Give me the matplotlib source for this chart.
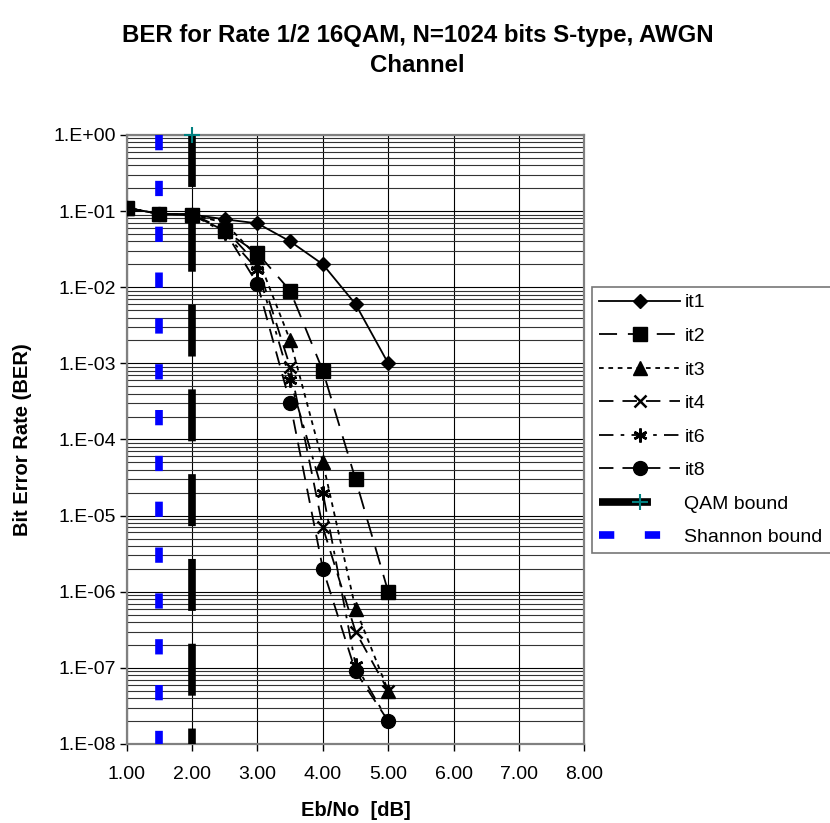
import matplotlib
matplotlib.use("Agg")
import matplotlib.pyplot as plt
from matplotlib.ticker import FixedLocator, LogLocator, NullFormatter
import numpy as np

plt.rcParams['font.family'] = ['Liberation Sans', 'DejaVu Sans']

# ---- data ----
ebno = [1.0, 1.5, 2.0, 2.5, 3.0, 3.5, 4.0, 4.5, 5.0]
it1 = [0.11, 0.092, 0.09, 0.078, 0.069, 0.040, 0.020, 0.006, 0.001]
it2 = [0.11, 0.092, 0.09, 0.055, 0.028, 0.009, 0.0008, 3e-5, 1e-6]
it3 = [0.11, 0.092, 0.09, 0.070, 0.025, 0.002, 5e-5, 6e-7, 5e-8]
it4 = [0.11, 0.092, 0.09, 0.058, 0.020, 9e-4, 7e-6, 3e-7, 5e-8]
it6 = [0.11, 0.092, 0.09, 0.052, 0.017, 6e-4, 2e-5, 1.1e-7, 2e-8]
it8 = [0.11, 0.092, 0.09, 0.055, 0.011, 3e-4, 2e-6, 9e-8, 2e-8]

qam_x = [2.0, 2.0]
qam_y = [1.0, 1e-8]
shannon_x = [1.5, 1.5]
shannon_y = [1.0, 1e-8]

xticks = [1, 2, 3, 4, 5, 6, 7, 8]
xtick_labels = ['1.00', '2.00', '3.00', '4.00', '5.00', '6.00', '7.00', '8.00']
yticks = [1e0, 1e-1, 1e-2, 1e-3, 1e-4, 1e-5, 1e-6, 1e-7, 1e-8]
ytick_labels = ['1.E+00', '1.E-01', '1.E-02', '1.E-03', '1.E-04',
                '1.E-05', '1.E-06', '1.E-07', '1.E-08']

title = 'BER for Rate 1/2 16QAM, N=1024 bits S-type, AWGN\nChannel'
xlabel = 'Eb/No  [dB]'
ylabel = 'Bit Error Rate (BER)'

# ---- figure ----
fig = plt.figure(figsize=(8.3, 8.23), dpi=100)
ax = fig.add_axes([0.1527, 0.0960, 0.5513, 0.7400])

ax.set_yscale('log')
ax.set_xlim(1, 8)
ax.set_ylim(1e-8, 1)

lw = 1.3
series = [
    (it1, 'it1', dict(marker='D', ms=7.5, linestyle='-')),
    (it2, 'it2', dict(marker='s', ms=9.5, linestyle=(0, (10, 6)))),
    (it3, 'it3', dict(marker='^', ms=9.5, linestyle=(0, (2.6, 2.6)))),
    (it4, 'it4', dict(marker='x', ms=8.5, mew=1.8, linestyle=(0, (8, 5)))),
    (it6, 'it6', dict(marker=(6, 2, 0), ms=10, mew=1.8, linestyle=(0, (8, 4, 2, 4)))),
    (it8, 'it8', dict(marker='o', ms=10, linestyle=(0, (8, 5)))),
]
handles = []
for ys, lab, st in series:
    h, = ax.plot(ebno, ys, color='black', lw=lw, mfc='black', mec='black',
                 label=lab, zorder=4, **st)
    handles.append(h)

qlw = 5.5
hq, = ax.plot(qam_x, qam_y, color='black', lw=qlw, linestyle=(0, (6.8, 4.3)),
              dash_capstyle='butt', marker='+', ms=11, mew=1.5,
              mec='#008080', markevery=[0], label='QAM bound', zorder=5,
              clip_on=False)
hs, = ax.plot(shannon_x, shannon_y, color='#0000FF', lw=qlw,
              linestyle=(0, (2.0, 4.0)), dash_capstyle='butt',
              label='Shannon bound', zorder=3, clip_on=False)
handles += [hq, hs]

# ticks
ax.xaxis.set_major_locator(FixedLocator(xticks))
ax.set_xticklabels(xtick_labels)
ax.yaxis.set_major_locator(FixedLocator(yticks))
ax.set_yticklabels(ytick_labels)
ax.yaxis.set_minor_locator(LogLocator(base=10, subs=np.arange(2, 10), numticks=100))
ax.yaxis.set_minor_formatter(NullFormatter())
ax.tick_params(axis='both', which='major', direction='out', length=5, width=1,
               labelsize=14, color='black')
ax.tick_params(axis='x', which='major', pad=11)
ax.tick_params(axis='y', which='major', pad=3)
ax.tick_params(axis='y', which='minor', length=0)
ax.tick_params(axis='x', which='minor', length=0)

ax.grid(True, which='major', axis='both', color='black', lw=0.8, zorder=1)
ax.grid(True, which='minor', axis='y', color='#333333', lw=0.8, zorder=1)
ax.set_axisbelow(True)

for sp in ax.spines.values():
    sp.set_color('#808080')
    sp.set_linewidth(1.6)

fig.text(0.503, 0.971, title, ha='center', va='top', fontsize=17.3,
         fontweight='bold', linespacing=1.42)
ax.set_xlabel(xlabel, fontsize=14.5, fontweight='bold', labelpad=13)
ax.set_ylabel(ylabel, fontsize=14.5, fontweight='bold', labelpad=15)

leg = fig.legend(handles=handles, loc='upper left', mode='expand',
                 bbox_to_anchor=(592 / 830, 1 - 287 / 823, (850 - 592) / 830, 0),
                 fontsize=14, handlelength=4.2, handletextpad=0.2,
                 labelspacing=0.82, borderpad=0.35, borderaxespad=0,
                 numpoints=1, frameon=True, fancybox=False)
leg.get_frame().set_edgecolor('#555555')
leg.get_frame().set_linewidth(1.2)

fig.savefig('out.png', dpi=100)
